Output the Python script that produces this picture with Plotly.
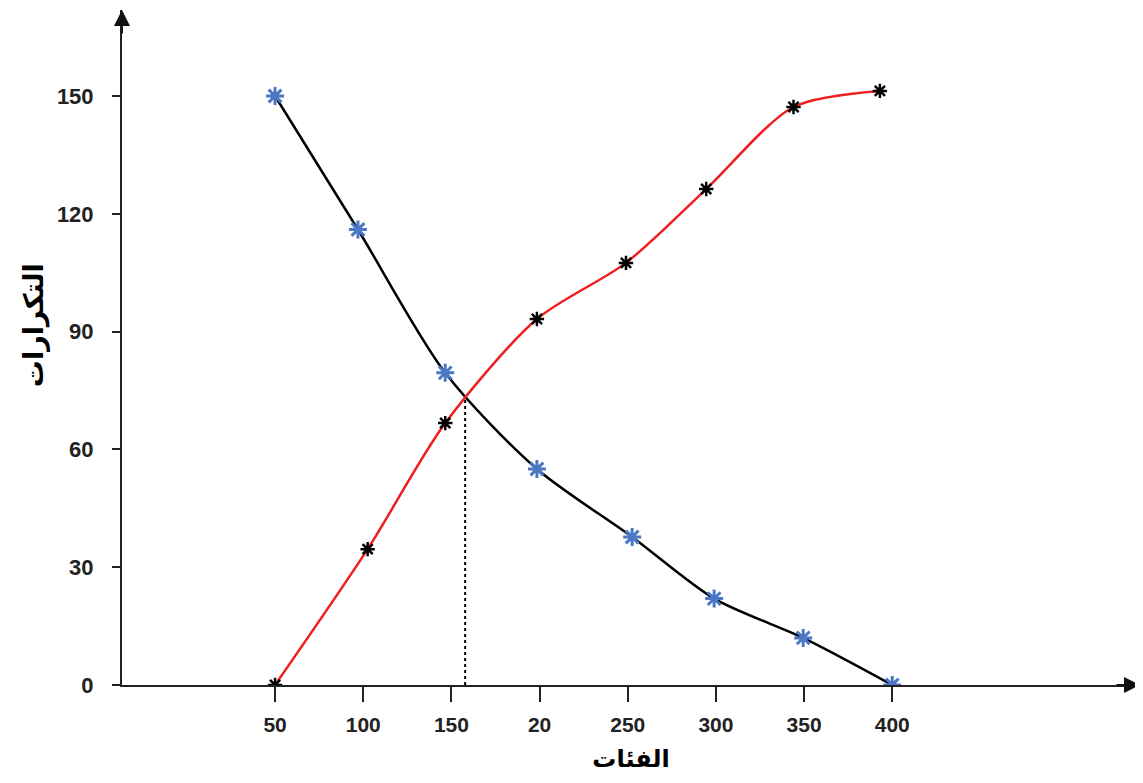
import plotly.graph_objects as go

# Category labels on the x axis (as printed in the reference)
categories = ["50", "100", "150", "20", "250", "300", "350", "400"]
cat_pos = [0, 1, 2, 3, 4, 5, 6, 7]

# Descending cumulative frequency (blue stars, black curve)
desc_x = [0.0, 0.94, 1.93, 2.97, 4.05, 4.98, 5.99, 7.0]
desc_y = [150, 116, 79.5, 55, 37.7, 22, 12, 0]

# Ascending cumulative frequency (black stars, red curve)
asc_x = [0.0, 1.05, 1.93, 2.97, 3.98, 4.89, 5.88, 6.86]
asc_y = [0, 34.6, 66.7, 93.2, 107.5, 126.3, 147.2, 151.3]

# Median (intersection) drop line
median_x = [2.156, 2.156]
median_y = [0, 72.6]

y_ticks = [0, 30, 60, 90, 120, 150]

fig = go.Figure()

fig.add_trace(go.Scatter(x=median_x, y=median_y, mode="lines",
                         line=dict(color="black", width=2, dash="dot"),
                         hoverinfo="skip", showlegend=False))
fig.add_trace(go.Scatter(x=desc_x, y=desc_y, mode="lines",
                         line=dict(color="black", width=2.5, shape="spline", smoothing=0.8),
                         showlegend=False))
fig.add_trace(go.Scatter(x=asc_x, y=asc_y, mode="lines",
                         line=dict(color="#F01E1E", width=2.5, shape="spline", smoothing=0.8),
                         showlegend=False))
fig.add_trace(go.Scatter(x=desc_x, y=desc_y, mode="markers",
                         marker=dict(symbol="asterisk-open", size=15, color="#4A78C4",
                                     line=dict(color="#4A78C4", width=3)),
                         showlegend=False))
fig.add_trace(go.Scatter(x=asc_x, y=asc_y, mode="markers",
                         marker=dict(symbol="asterisk-open", size=12, color="black",
                                     line=dict(color="black", width=2.5)),
                         showlegend=False))

fig.update_layout(
    width=1143, height=783,
    margin=dict(l=114, r=11, t=2, b=106),
    paper_bgcolor="white", plot_bgcolor="white",
    font=dict(family="Liberation Sans, Arial", color="#222"),
    xaxis=dict(
        range=[-1.736, 9.81], automargin=False,
        tickvals=cat_pos, ticktext=categories,
        showgrid=False, zeroline=False,
        showline=True, linecolor="#222", linewidth=2,
        ticks="outside", ticklen=15, tickwidth=2, tickcolor="#222",
        tickfont=dict(size=21, family="Liberation Sans, Arial", weight="bold"),
        ticklabelstandoff=5,
        title=dict(text="الفئات", standoff=15,
                   font=dict(size=24, family="DejaVu Sans", weight="bold", color="black")),
    ),
    yaxis=dict(
        range=[0, 171.9], automargin=False,
        tickvals=y_ticks,
        showgrid=False, zeroline=False,
        showline=True, linecolor="#222", linewidth=2,
        ticks="outside", ticklen=8, tickwidth=1.5, tickcolor="#222",
        tickfont=dict(size=22, family="Liberation Sans, Arial", weight="bold"),
        ticklabelstandoff=14,
    ),
)

# Y-axis title as rotated annotation
fig.add_annotation(xref="paper", yref="paper", x=0, y=0.533, xshift=-88,
                   xanchor="center", yanchor="middle", textangle=-90,
                   text="التكرارات", showarrow=False,
                   font=dict(size=27, family="DejaVu Sans", weight="bold", color="black"))

# Axis arrowheads
fig.add_annotation(xref="paper", yref="paper", x=1.0, y=0.0, ax=-25, ay=0,
                   showarrow=True, arrowhead=2, arrowsize=1.6, arrowwidth=2,
                   arrowcolor="#111", text="")
fig.add_annotation(xref="paper", yref="paper", x=0.0, y=1.0, ax=0, ay=25,
                   showarrow=True, arrowhead=2, arrowsize=1.6, arrowwidth=2,
                   arrowcolor="#111", text="")

fig.write_html("out.html")
